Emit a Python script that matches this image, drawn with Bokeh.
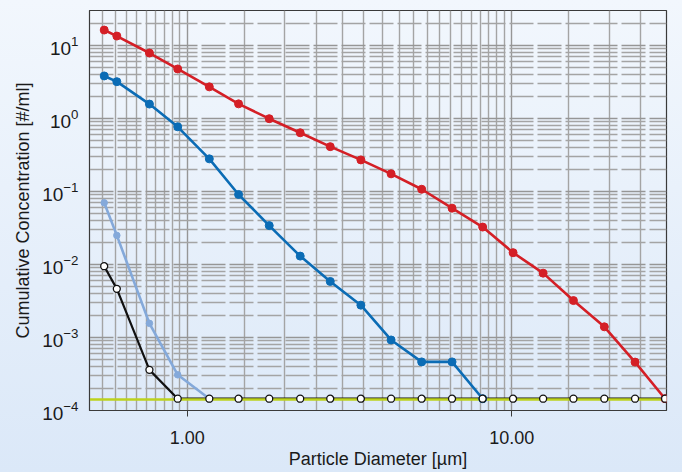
from bokeh.plotting import figure
from bokeh.models import FixedTicker, NumeralTickFormatter, ColumnDataSource
from bokeh.embed import file_html
from bokeh.resources import INLINE

# ---- data ----
diameter_um = [0.555, 0.607, 0.765, 0.935, 1.17, 1.44, 1.79, 2.23, 2.76, 3.43,
               4.25, 5.28, 6.55, 8.14, 10.1, 12.5, 15.5, 19.3, 24.0, 29.7]

red_conc = [16.2, 13.4, 7.85, 4.75, 2.70, 1.58, 0.99, 0.635, 0.41, 0.27,
            0.174, 0.107, 0.059, 0.0325, 0.0145, 0.0076, 0.0032, 0.0014, 0.00046, 0.000145]
blue_conc = [3.81, 3.18, 1.57, 0.767, 0.279, 0.0908, 0.034, 0.013, 0.00585, 0.00277,
             0.000924, 0.000463, 0.000463, 0.000145]
lightblue_conc = [0.0698, 0.025, 0.00156, 0.000308, 0.000145]
black_conc = [0.00946, 0.00463, 0.00036] + [0.000145] * 17

detection_limit = [1.4e-4]

x_major_ticks = [1.0, 10.0]
x_minor_ticks = [0.55, 0.6, 0.65, 0.7, 0.75, 0.8, 0.85, 0.9, 0.95,
                 1.5, 2, 2.5, 3, 3.5, 4, 4.5, 5, 5.5, 6, 6.5, 7, 7.5, 8, 8.5, 9, 9.5,
                 15, 20, 25]
y_major_ticks = [1e-4, 1e-3, 1e-2, 1e-1, 1e0, 1e1]
y_minor_ticks = [k * 10.0 ** e for e in range(-4, 1) for k in range(2, 10)] + [20.0]

x_title = "Particle Diameter [µm]"
y_title = "Cumulative Concentration [#/ml]"

# ---- figure ----
FONT = "Liberation Sans"
p = figure(width=682, height=472, x_axis_type="log", y_axis_type="log",
           x_range=(0.5, 30.0), y_range=(1e-4, 30.0),
           output_backend="svg", toolbar_location=None,
           min_border_left=89, min_border_right=16, min_border_top=10, min_border_bottom=62)
p.styles = {"background": "linear-gradient(to bottom, #f2f7fd 0%, #dbe8f8 100%)"}
p.background_fill_alpha = 0
p.border_fill_alpha = 0
p.outline_line_color = "#3a3a3a"
p.outline_line_width = 1.2

# axes
p.xaxis.ticker = FixedTicker(ticks=x_major_ticks, minor_ticks=x_minor_ticks)
p.yaxis.ticker = FixedTicker(ticks=y_major_ticks, minor_ticks=y_minor_ticks)
p.xaxis.formatter = NumeralTickFormatter(format="0.00")
for ax in (p.xaxis, p.yaxis):
    ax.axis_line_color = "#3a3a3a"
    ax.minor_tick_line_color = None
    ax.major_label_text_font = FONT
    ax.major_label_text_color = "#1a1a1a"
    ax.axis_label_text_font = FONT
    ax.axis_label_text_font_style = "normal"
    ax.axis_label_text_color = "#1a1a1a"
    ax.axis_label_text_font_size = "18px"
p.xaxis.major_tick_out = 6
p.xaxis.major_tick_in = 0
p.xaxis.major_tick_line_color = "#3a3a3a"
p.xaxis.major_label_text_font_size = "18px"
p.xaxis.major_label_standoff = 14
p.xaxis.axis_label = x_title
p.xaxis.axis_label_standoff = 2
p.yaxis.major_tick_line_color = None
p.yaxis.major_tick_out = 0
p.yaxis.major_tick_in = 0
p.yaxis.major_label_text_font_size = "19px"
p.yaxis.major_label_standoff = 7
p.yaxis.axis_label = y_title
p.yaxis.axis_label_standoff = 6

# grids
p.xgrid.grid_line_color = "#969696"
p.xgrid.grid_line_width = 1.4
p.xgrid.minor_grid_line_color = "#a4a4a4"
p.xgrid.minor_grid_line_width = 1.4
p.ygrid.grid_line_color = "#969696"
p.ygrid.grid_line_width = 1.4
p.ygrid.grid_line_dash = "24 4"
p.ygrid.minor_grid_line_color = "#a4a4a4"
p.ygrid.minor_grid_line_width = 1.4
p.ygrid.minor_grid_line_dash = "24 4"

# series
n_lb = len(lightblue_conc)
n_b = len(blue_conc)
src_red = ColumnDataSource(dict(x=diameter_um, y=red_conc))
src_blue = ColumnDataSource(dict(x=diameter_um[:n_b], y=blue_conc))
src_lb = ColumnDataSource(dict(x=diameter_um[:n_lb], y=lightblue_conc))
src_blk = ColumnDataSource(dict(x=diameter_um, y=black_conc))

RED, BLUE, LBLUE, BLACK, YEL = "#d41f26", "#0b6cb5", "#84a9da", "#111111", "#bdd21d"

p.line("x", "y", source=src_lb, line_color=LBLUE, line_width=2.6)
p.line("x", "y", source=src_blue, line_color=BLUE, line_width=2.6)
p.line("x", "y", source=src_red, line_color=RED, line_width=2.6)
p.line("x", "y", source=src_blk, line_color=BLACK, line_width=2.2)
p.hspan(y=detection_limit, line_color=YEL, line_width=2.6)

p.scatter("x", "y", source=src_lb, size=6.5, fill_color=LBLUE, line_color=LBLUE)
p.scatter("x", "y", source=src_blue, size=8, fill_color=BLUE, line_color=BLUE)
p.scatter("x", "y", source=src_red, size=8, fill_color=RED, line_color=RED)
p.scatter("x", "y", source=src_blk, size=7, fill_color="white", line_color=BLACK, line_width=1.3)

open("out.html", "w").write(file_html(p, INLINE))
